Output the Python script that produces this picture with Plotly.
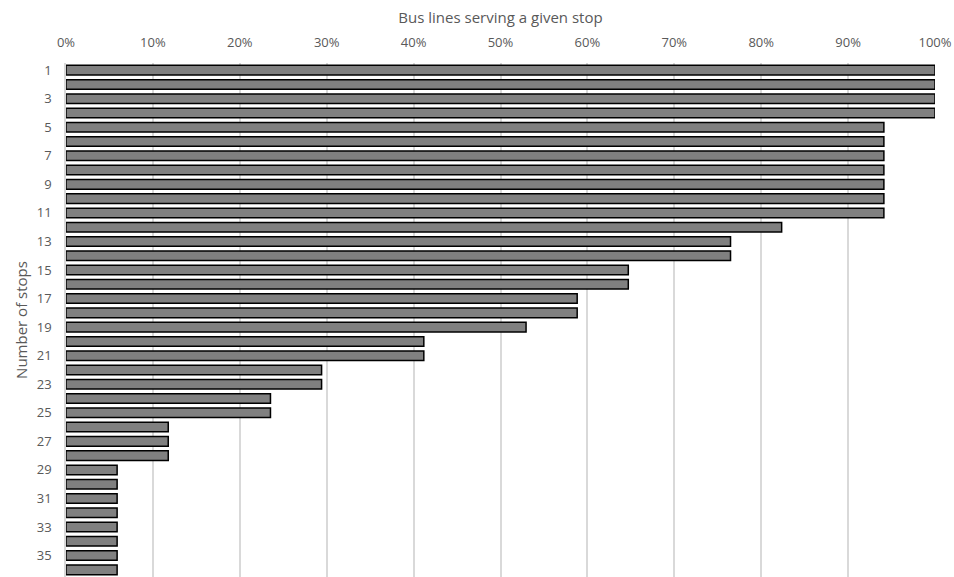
import plotly.graph_objects as go

# Number of bus lines (out of 17) serving each stop, stops ranked 1..36
stops = list(range(1, 37))
lines_serving = [17, 17, 17, 17,
                 16, 16, 16, 16, 16, 16, 16,
                 14,
                 13, 13,
                 11, 11,
                 10, 10,
                 9,
                 7, 7,
                 5, 5,
                 4, 4,
                 2, 2, 2,
                 1, 1, 1, 1, 1, 1, 1, 1]
total_lines = 17
share = [n / total_lines for n in lines_serving]

x_ticks = [i / 10 for i in range(11)]
x_tick_text = [f"{i * 10}%" for i in range(11)]
y_ticks = list(range(1, 37, 2))

font_family = "Open Sans, Liberation Sans, sans-serif"
label_color = "#595959"

fig = go.Figure(
    go.Bar(
        x=share,
        y=stops,
        orientation="h",
        marker=dict(color="#808080", line=dict(color="#000000", width=1.5)),
        hoverinfo="x+y",
    )
)

fig.update_layout(
    width=954,
    height=577,
    margin=dict(l=66, r=19, t=63, b=0),
    plot_bgcolor="white",
    paper_bgcolor="white",
    bargap=0.33,
    showlegend=False,
    font=dict(family=font_family, size=13, color=label_color),
)

fig.update_xaxes(
    side="top",
    range=[0, 1],
    tickvals=x_ticks,
    ticktext=x_tick_text,
    showgrid=True,
    gridcolor="#d9d9d9",
    gridwidth=1.5,
    zeroline=False,
    ticks="",
    ticklabelstandoff=12,
    title=dict(text="Bus lines serving a given stop", standoff=6,
               font=dict(size=15, color=label_color)),
)

fig.update_yaxes(
    range=[36.5, 0.5],
    tickvals=y_ticks,
    ticktext=[str(v) for v in y_ticks],
    showgrid=False,
    zeroline=False,
    showline=True,
    linecolor="#d9d9d9",
    linewidth=1.5,
    ticks="",
    ticklabelstandoff=10,
    title=dict(text="Number of stops", standoff=6,
               font=dict(size=15, color=label_color)),
)

fig.write_html("out.html")
